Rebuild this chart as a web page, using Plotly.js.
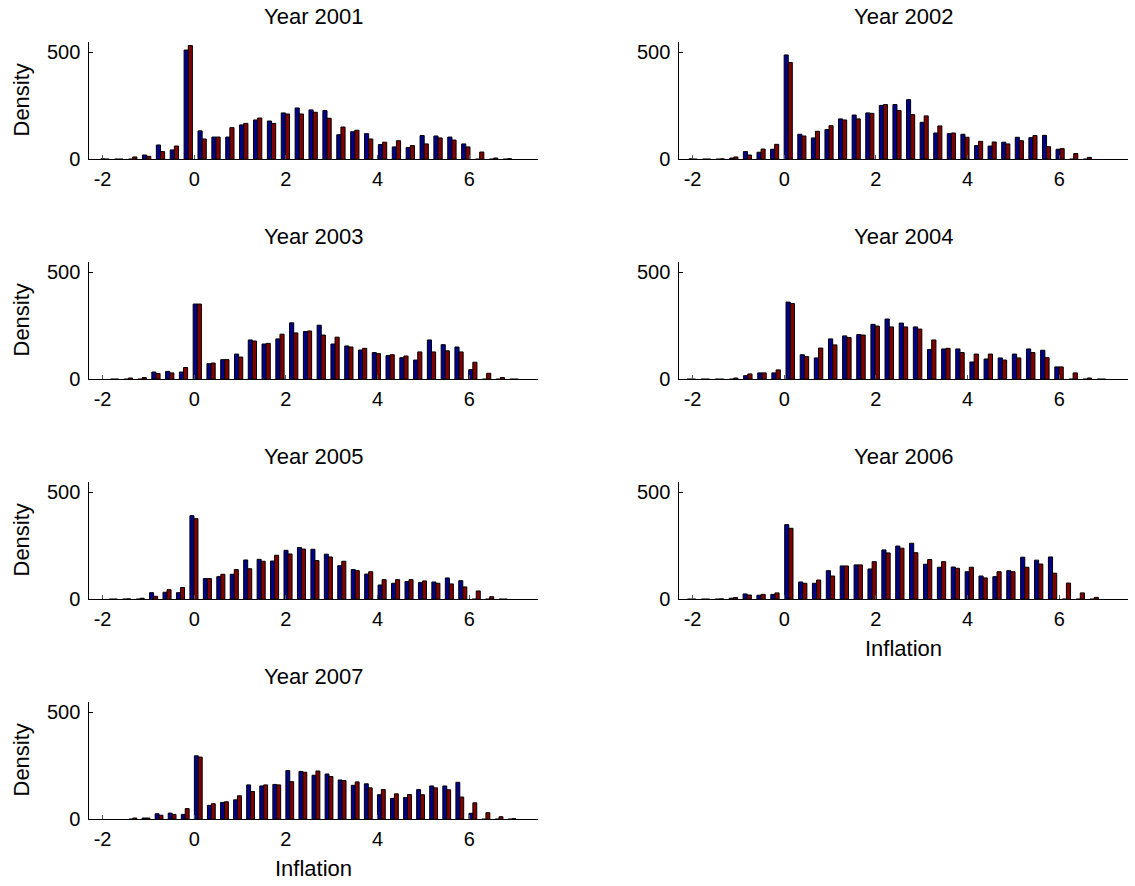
<!DOCTYPE html>
<html>
<head>
<meta charset="utf-8">
<script src="https://cdn.plot.ly/plotly-3.0.1.min.js"></script>
<style>html,body{margin:0;padding:0;background:#fff;}#chart{width:1135px;height:886px;}</style>
</head>
<body>
<div id="chart"></div>
<script>
// ---- Data ----
const years = ['2001', '2002', '2003', '2004', '2005', '2006', '2007'];
const xTickVals = [-2, 0, 2, 4, 6];
const xTickText = ['-2', '0', '2', '4', '6'];
const yTickVals = [0, 500];
const yTickText = ['0', '500'];
const seriesNames = ['Series 1', 'Series 2'];

// bin centres (Inflation) per year
const bins2001 = [-1.948,-1.645,-1.342,-1.039,-0.737,-0.434,-0.131,0.172,0.475,0.777,1.080,1.383,1.686,1.989,2.291,2.594,2.897,3.200,3.503,3.805,4.108,4.411,4.714,5.017,5.319,5.622,5.925,6.228,6.531,6.833];
const bins2002 = [-1.989,-1.693,-1.396,-1.100,-0.803,-0.506,-0.210,0.087,0.384,0.680,0.977,1.273,1.570,1.867,2.163,2.460,2.757,3.053,3.350,3.646,3.943,4.240,4.536,4.833,5.129,5.426,5.723,6.019,6.316,6.612];
const bins2003 = [-1.738,-1.437,-1.136,-0.836,-0.535,-0.235,0.066,0.367,0.667,0.968,1.268,1.569,1.870,2.170,2.471,2.771,3.072,3.373,3.673,3.974,4.274,4.575,4.876,5.176,5.477,5.777,6.078,6.379,6.679,6.980];
const bins2004 = [-2.029,-1.721,-1.412,-1.103,-0.795,-0.486,-0.178,0.131,0.440,0.748,1.057,1.366,1.674,1.983,2.291,2.600,2.909,3.217,3.526,3.834,4.143,4.452,4.760,5.069,5.377,5.686,5.995,6.303,6.612,6.920];
const bins2005 = [-1.767,-1.474,-1.180,-0.887,-0.594,-0.300,-0.007,0.286,0.580,0.873,1.166,1.460,1.753,2.046,2.339,2.633,2.926,3.219,3.513,3.806,4.099,4.393,4.686,4.979,5.272,5.566,5.859,6.152,6.446,6.739];
const bins2006 = [-2.020,-1.717,-1.414,-1.111,-0.808,-0.506,-0.203,0.100,0.403,0.705,1.008,1.311,1.614,1.917,2.220,2.522,2.825,3.128,3.431,3.734,4.037,4.339,4.642,4.945,5.248,5.551,5.854,6.156,6.459,6.762];
const bins2007 = [-1.339,-1.053,-0.768,-0.483,-0.197,0.088,0.373,0.659,0.944,1.229,1.515,1.800,2.084,2.370,2.655,2.940,3.226,3.512,3.797,4.082,4.367,4.653,4.938,5.223,5.509,5.794,6.079,6.364,6.650,6.935];

// densities, first (blue) series
const blue2001 = [2,1,1,20,67,44,511,133,104,104,161,184,179,217,240,231,228,115,129,120,69,58,55,111,109,104,72,1,1,1];
const blue2002 = [2,1,1,6,36,33,47,488,117,100,139,189,207,217,252,256,279,173,123,120,117,64,62,80,103,101,112,47,1,1];
const blue2003 = [1,1,1,34,37,34,352,73,92,118,184,165,189,264,223,253,165,156,137,125,111,101,90,184,162,151,45,1,1,1];
const blue2004 = [1,1,1,1,17,30,30,361,115,100,189,203,209,257,282,263,245,139,142,142,81,95,100,118,142,136,58,1,1,1];
const blue2005 = [1,1,1,31,33,31,391,97,106,117,184,187,179,229,242,234,211,157,139,118,67,75,83,78,81,100,87,1,1,1];
const blue2006 = [1,1,1,5,25,19,23,349,81,75,134,156,161,142,231,249,262,164,150,151,129,109,106,134,197,183,198,1,1,1];
const blue2007 = [1,6,26,29,23,297,65,79,91,161,156,163,228,224,206,212,184,159,166,115,98,102,139,156,156,173,28,1,1,1];

// densities, second (red) series
const red2001 = [1,1,11,14,36,62,532,95,104,148,168,193,168,212,212,220,192,151,136,95,80,87,64,72,100,90,58,34,6,3];
const red2002 = [1,1,2,11,20,48,70,453,109,131,157,184,189,215,256,228,209,203,156,123,103,84,81,72,87,111,59,50,27,9];
const red2003 = [1,6,8,27,30,55,352,76,92,104,179,168,211,217,226,207,197,151,145,120,115,109,128,128,133,128,80,28,8,1];
const red2004 = [1,1,1,6,25,30,44,354,106,146,161,195,207,249,245,245,235,184,145,125,118,118,90,100,125,101,58,30,6,1];
const red2005 = [1,2,5,14,45,55,377,97,117,139,143,178,206,212,235,181,198,178,134,129,92,92,92,86,75,72,58,39,12,1];
const red2006 = [1,1,2,8,20,23,30,332,75,90,109,156,161,176,217,239,218,186,176,145,150,100,129,129,150,165,122,76,30,9];
const red2007 = [6,6,19,23,50,291,73,82,110,130,161,161,176,220,226,200,181,175,147,139,119,116,115,147,138,104,77,31,12,3];

const binsAll = [bins2001, bins2002, bins2003, bins2004, bins2005, bins2006, bins2007];
const blueAll = [blue2001, blue2002, blue2003, blue2004, blue2005, blue2006, blue2007];
const redAll = [red2001, red2002, red2003, red2004, red2005, red2006, red2007];

// ---- Layout geometry ----
const W = 1135, H = 886;
const colX = [[89.3, 538], [679.3, 1128]];
const rowY = [[41.7, 159.3], [261.7, 379.3], [481.7, 599.3], [701.7, 819.3]];
const FONT = 'Liberation Sans, Arial, Helvetica, sans-serif';
const BLUE = 'rgb(0,0,143)';
const RED = 'rgb(128,0,0)';

const traces = [];
const layout = {
  width: W, height: H,
  margin: {l: 0, r: 0, t: 0, b: 0},
  paper_bgcolor: '#ffffff', plot_bgcolor: 'rgba(0,0,0,0)',
  showlegend: false,
  barmode: 'group', bargap: 0.4, bargroupgap: 0,
  font: {family: FONT, size: 20, color: '#000'},
  annotations: []
};

years.forEach((yr, i) => {
  const col = i % 2, row = Math.floor(i / 2);
  const sfx = i === 0 ? '' : String(i + 1);
  const xa = 'x' + sfx, ya = 'y' + sfx;
  traces.push({
    type: 'bar', name: seriesNames[0], x: binsAll[i], y: blueAll[i],
    xaxis: xa, yaxis: ya,
    marker: {color: BLUE, line: {color: '#000', width: 1}}, hoverinfo: 'x+y'
  });
  traces.push({
    type: 'bar', name: seriesNames[1], x: binsAll[i], y: redAll[i],
    xaxis: xa, yaxis: ya,
    marker: {color: RED, line: {color: '#000', width: 1}}, hoverinfo: 'x+y'
  });
  const x0 = colX[col][0] / W, x1 = colX[col][1] / W;
  const y0 = 1 - rowY[row][1] / H, y1 = 1 - rowY[row][0] / H;
  layout['xaxis' + sfx] = {
    domain: [x0, x1], anchor: ya, range: [-2.29, 7.5],
    tickmode: 'array', tickvals: xTickVals, ticktext: xTickText,
    ticks: 'inside', ticklen: 4, tickwidth: 1, tickcolor: '#555',
    ticklabelstandoff: 2,
    showline: true, linecolor: '#000', linewidth: 1,
    showgrid: false, zeroline: false, fixedrange: true,
    tickfont: {family: FONT, size: 20, color: '#000'}
  };
  layout['yaxis' + sfx] = {
    domain: [y0, y1], anchor: xa, range: [0, 550],
    tickmode: 'array', tickvals: yTickVals, ticktext: yTickText,
    ticks: 'inside', ticklen: 4, tickwidth: 1, tickcolor: '#000',
    ticklabelstandoff: 4,
    showline: true, linecolor: '#000', linewidth: 1,
    showgrid: false, zeroline: false, fixedrange: true,
    tickfont: {family: FONT, size: 20, color: '#000'}
  };
  // panel title
  layout.annotations.push({
    text: 'Year ' + yr, xref: 'paper', yref: 'paper',
    x: (x0 + x1) / 2, y: y1, xanchor: 'center', yanchor: 'middle', yshift: 25,
    showarrow: false, font: {family: FONT, size: 22, color: '#000'}
  });
  if (col === 0) {
    layout.annotations.push({
      text: 'Density', xref: 'paper', yref: 'paper',
      x: 21 / W, y: (y0 + y1) / 2, xanchor: 'center', yanchor: 'middle',
      textangle: -90, showarrow: false, font: {family: FONT, size: 22, color: '#000'}
    });
  }
  if (i === 5 || i === 6) {
    layout.annotations.push({
      text: 'Inflation', xref: 'paper', yref: 'paper',
      x: (x0 + x1) / 2, y: y0, xanchor: 'center', yanchor: 'middle', yshift: -49,
      showarrow: false, font: {family: FONT, size: 22, color: '#000'}
    });
  }
});

Plotly.newPlot('chart', traces, layout, {staticPlot: true, displayModeBar: false});
</script>
</body>
</html>
